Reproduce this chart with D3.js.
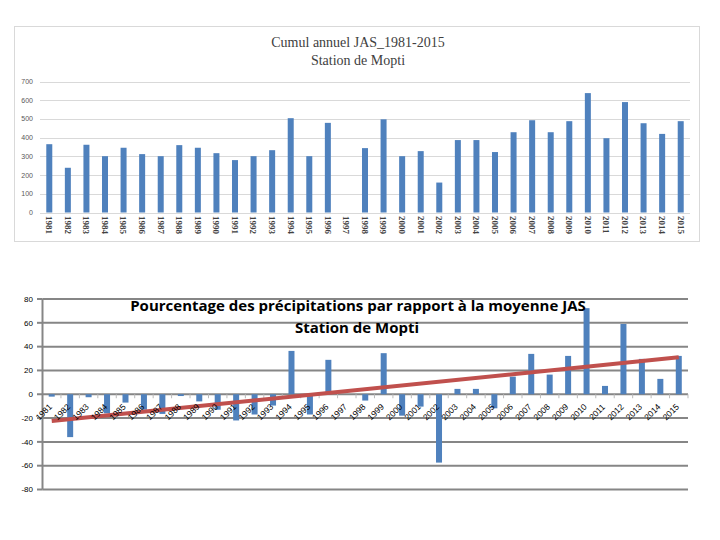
<!DOCTYPE html>
<html><head><meta charset="utf-8">
<script src="https://cdn.jsdelivr.net/npm/d3@7"></script>
<style>body{margin:0;background:#fff}svg{display:block}</style>
</head><body>
<svg id="c" width="720" height="540"></svg>
<script>
const years = ["1981","1982","1983","1984","1985","1986","1987","1988","1989","1990","1991","1992","1993","1994","1995","1996","1997","1998","1999","2000","2001","2002","2003","2004","2005","2006","2007","2008","2009","2010","2011","2012","2013","2014","2015"];
const cumulJAS = [365,239,362,301,346,312,301,360,346,317,280,301,333,504,301,479,null,344,498,301,328,160,387,387,323,429,493,429,488,638,397,590,477,420,488];
const pctMoyenne = [-2,-36,-2.5,-16,-7,-13,-16.5,-1.5,-6,-13,-22,-17,-9.5,36.4,-17,28.9,null,-5.3,34.5,-18,-10.4,-57.4,4.5,4.5,-11.8,14.8,33.9,16.5,32.2,72.3,7,59,29.7,12.9,32.2];
const trendEnds = [["1981",-22.4],["2015",31]];
const topTicks = [0,100,200,300,400,500,600,700];
const botTicks = [-80,-60,-40,-20,0,20,40,60,80];
const topTitle = ["Cumul annuel JAS_1981-2015","Station de Mopti"];
const botTitle = ["Pourcentage des précipitations par rapport à la moyenne JAS","Station de Mopti"];

const svg = d3.select("#c");

// ---------- Top chart ----------
const g1 = svg.append("g");
g1.append("rect").attr("x",14.5).attr("y",26.5).attr("width",685).attr("height",215)
  .attr("fill","#fff").attr("stroke","#d9d9d9");
const x1 = d3.scaleBand().domain(years).range([40,690]);
const y1 = d3.scaleLinear().domain([0,700]).range([212.5,81.5]);
g1.selectAll("line.g").data(topTicks).join("line")
  .attr("x1",40).attr("x2",690).attr("y1",d=>Math.round(y1(d))+0.5).attr("y2",d=>Math.round(y1(d))+0.5)
  .attr("stroke","#d9d9d9").attr("stroke-width",1);
g1.selectAll("text.yl").data(topTicks).join("text")
  .attr("x",33).attr("y",d=>y1(d)).attr("dy","0.35em").attr("text-anchor","end")
  .attr("font-family","Liberation Sans, Arial").attr("font-size",7).attr("fill","#595959")
  .text(d=>d);
g1.selectAll("rect.b").data(years.map((y,i)=>[y,cumulJAS[i]]).filter(d=>d[1]!=null)).join("rect")
  .attr("x",d=>x1(d[0])+x1.bandwidth()/2-3).attr("width",6)
  .attr("y",d=>y1(d[1])).attr("height",d=>y1(0)-y1(d[1])).attr("fill","#4f81bd");
g1.selectAll("text.xl").data(years).join("text")
  .attr("transform",d=>`translate(${x1(d)+x1.bandwidth()/2},216) rotate(90)`)
  .attr("dy","0.35em").attr("text-anchor","start")
  .attr("font-family","Liberation Serif, Times New Roman").attr("font-size",9).attr("font-weight","bold").attr("fill","#404040")
  .text(d=>d);
g1.selectAll("text.t").data(topTitle).join("text")
  .attr("x",358).attr("y",(d,i)=>47+i*18).attr("text-anchor","middle")
  .attr("font-family","Liberation Serif, Times New Roman").attr("font-size",14).attr("fill","#404040")
  .text(d=>d);

// ---------- Bottom chart ----------
const g2 = svg.append("g");
const x2 = d3.scaleBand().domain(years).range([42.5,688]);
const y2 = d3.scaleLinear().domain([-80,80]).range([489.5,299]);
g2.selectAll("line.g").data(botTicks).join("line")
  .attr("x1",42.5).attr("x2",688).attr("y1",d=>y2(d)).attr("y2",d=>y2(d))
  .attr("stroke","#868686").attr("stroke-width",2);
g2.append("line").attr("x1",42.5).attr("x2",42.5).attr("y1",y2(80)).attr("y2",y2(-80))
  .attr("stroke","#868686").attr("stroke-width",2);
g2.selectAll("line.tk").data(botTicks).join("line")
  .attr("x1",37).attr("x2",42.5).attr("y1",d=>y2(d)).attr("y2",d=>y2(d))
  .attr("stroke","#868686").attr("stroke-width",2);
g2.selectAll("text.yl").data(botTicks).join("text")
  .attr("x",33).attr("y",d=>y2(d)).attr("dy","0.35em").attr("text-anchor","end")
  .attr("font-family","Liberation Sans, Arial").attr("font-size",8).attr("fill","#000")
  .text(d=>d);
g2.selectAll("line.zt").data(years).join("line")
  .attr("x1",d=>x2(d)+x2.bandwidth()).attr("x2",d=>x2(d)+x2.bandwidth())
  .attr("y1",y2(0)).attr("y2",y2(0)+4).attr("stroke","#bbb").attr("stroke-width",1);
g2.selectAll("rect.b").data(years.map((y,i)=>[y,pctMoyenne[i]]).filter(d=>d[1]!=null)).join("rect")
  .attr("x",d=>x2(d[0])+x2.bandwidth()/2-3).attr("width",6)
  .attr("y",d=>y2(Math.max(0,d[1]))).attr("height",d=>Math.abs(y2(d[1])-y2(0))).attr("fill","#4f81bd");
const line = d3.line().x(d=>x2(d[0])+x2.bandwidth()/2).y(d=>y2(d[1]));
g2.append("path").attr("d",line(trendEnds)).attr("fill","none")
  .attr("stroke","#c0504d").attr("stroke-width",4);
g2.selectAll("text.xl").data(years).join("text")
  .attr("transform",d=>`translate(${x2(d)+x2.bandwidth()/2-8},412) rotate(-45)`)
  .attr("dy","0.35em").attr("text-anchor","middle")
  .attr("font-family","Liberation Sans, Arial").attr("font-size",8.5).attr("fill","#000")
  .text(d=>d);
g2.selectAll("text.t").data(botTitle).join("text")
  .attr("x",(d,i)=>i===0?358:357).attr("y",(d,i)=>311+i*22).attr("text-anchor","middle")
  .attr("font-family","Open Sans, Liberation Sans").attr("font-weight","bold").attr("font-size",15).attr("fill","#000")
  .text(d=>d);
</script>
</body></html>
